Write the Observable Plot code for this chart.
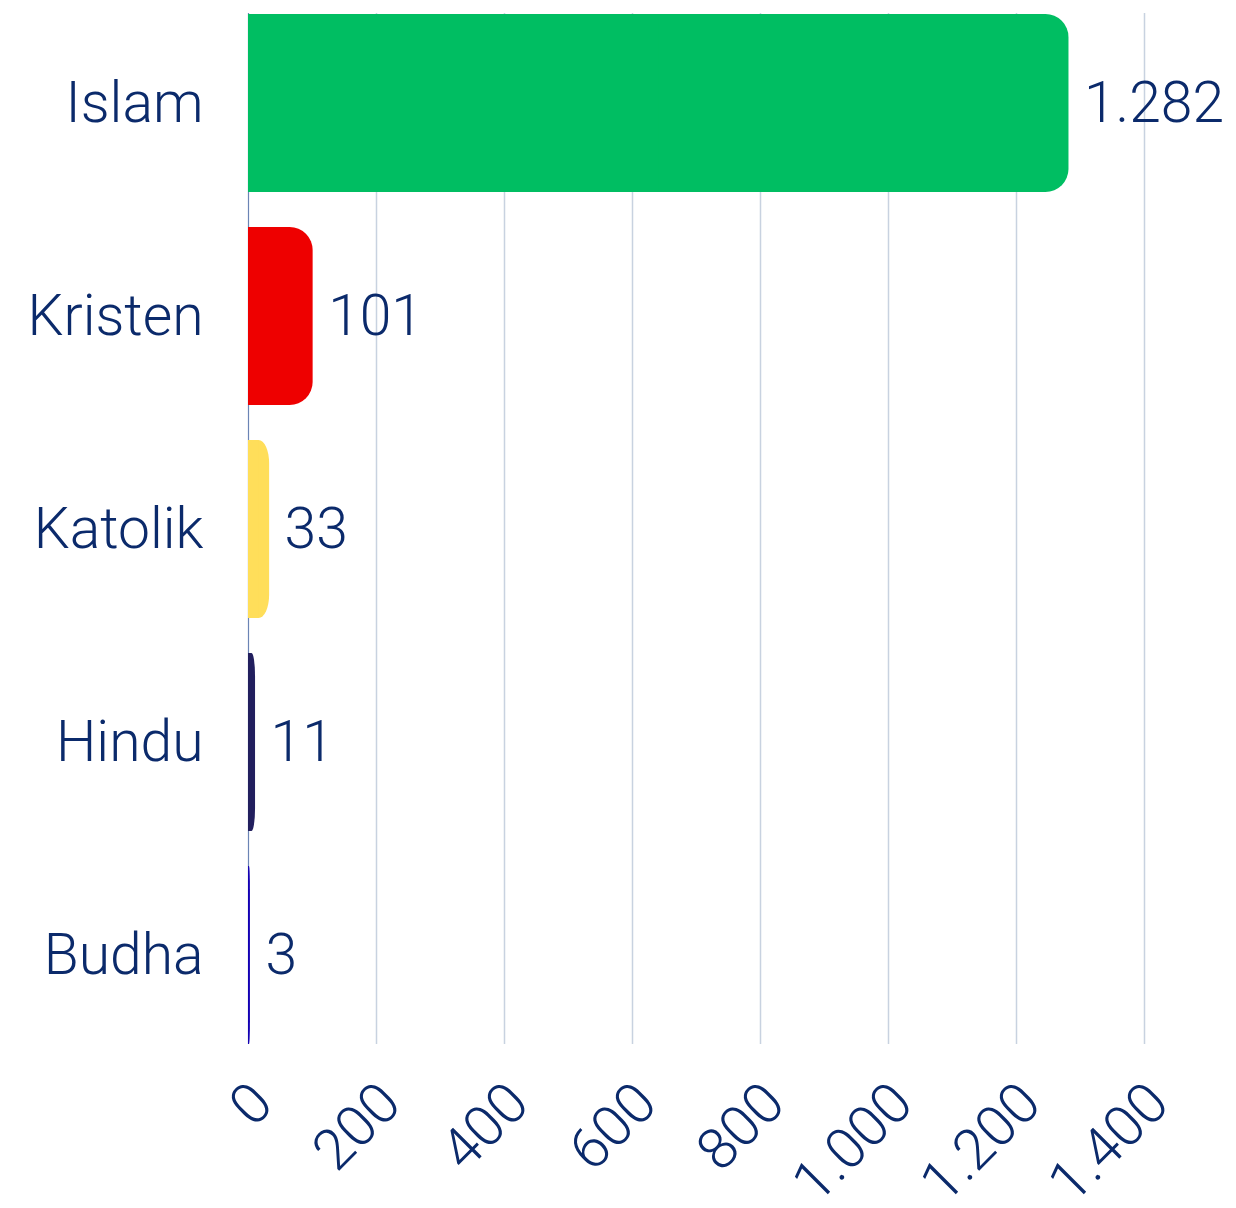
<!DOCTYPE html>
<html>
<head>
<meta charset="utf-8">
<script src="https://cdn.jsdelivr.net/npm/d3@7"></script>
<script src="https://cdn.jsdelivr.net/npm/@observablehq/plot@0.6"></script>
<style>
  html, body { margin: 0; padding: 0; background: #ffffff; }
  #chart svg { display: block; }
</style>
</head>
<body>
<div id="chart"></div>
<script>
const categories = ["Islam", "Kristen", "Katolik", "Hindu", "Budha"];
const values = [1282, 101, 33, 11, 3];
const colors = ["#00be62", "#ee0000", "#ffde5a", "#221f5e", "#1400b4"];
const xTicks = [0, 200, 400, 600, 800, 1000, 1200, 1400];

const data = categories.map((c, i) => ({category: c, value: values[i], color: colors[i]}));

const locale = d3.formatLocale({decimal: ",", thousands: ".", grouping: [3], currency: ["", ""]});
const fmt = locale.format(",d");

const textColor = "#0b2a6b";
const font = "Roboto, 'Noto Sans', sans-serif";

const chart = Plot.plot({
  width: 1236,
  height: 1208,
  marginLeft: 248,
  marginRight: 92,
  marginTop: 13,
  marginBottom: 164,
  style: {fontFamily: font, background: "#ffffff"},
  x: {domain: [0, 1400], axis: null},
  y: {domain: categories, axis: null, paddingInner: 0.165, paddingOuter: 0},
  color: {type: "identity"},
  marks: [
    Plot.ruleX(xTicks.filter(t => t > 0), {stroke: "#c8d2e0", strokeWidth: 1.5}),
    Plot.ruleX([0], {stroke: "#6b84b5", strokeWidth: 1.2}),
    Plot.barX(data, {y: "category", x1: 0, x2: "value", fill: "color", rx: 23}),
    Plot.barX(data, {y: "category", x1: 0, x2: d => d.value / 2, fill: "color"}),
    Plot.text(data, {
      y: "category", x: 0, text: "category", textAnchor: "end", dx: -45,
      fill: textColor, fontSize: 57, fontWeight: 300
    }),
    Plot.text(data, {
      y: "category", x: "value", text: d => fmt(d.value), textAnchor: "start", dx: 15,
      fill: textColor, fontSize: 57, fontWeight: 300
    }),
    Plot.text(xTicks, {
      x: d => d, frameAnchor: "bottom", text: d => fmt(d), rotate: -45,
      textAnchor: "end", dx: 27, dy: 62, fill: textColor, fontSize: 57, fontWeight: 300
    })
  ]
});

document.getElementById("chart").appendChild(chart);
</script>
</body>
</html>
